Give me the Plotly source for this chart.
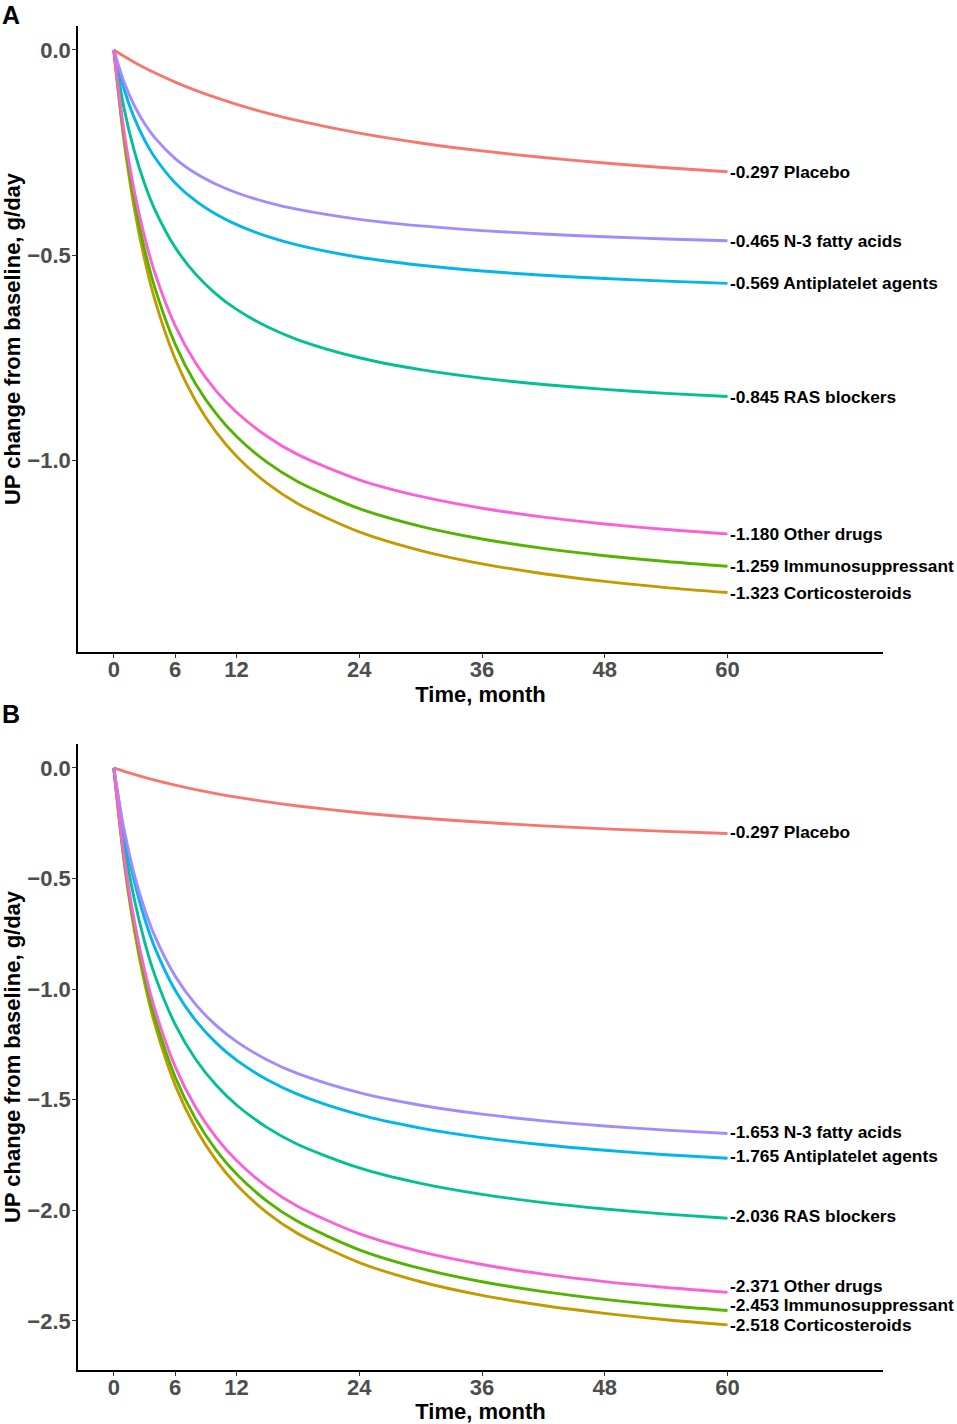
import plotly.graph_objects as go
from plotly.subplots import make_subplots

months = [0, 1, 2, 3, 4, 6, 8, 10, 12, 15, 18, 24, 30, 36, 42, 48, 54, 60]

# drawing order follows the ggplot factor order (pink on top)
groups = ["Placebo", "Corticosteroids", "Immunosuppressant", "RAS blockers",
          "Antiplatelet agents", "N-3 fatty acids", "Other drugs"]
colors = ["#F8766D", "#C49A00", "#53B400", "#00C094", "#00B6EB", "#A58AFF", "#FB61D7"]

# panel A, UP change from baseline (g/day)
a_placebo = [0, -0.0154, -0.0297, -0.0431, -0.0556, -0.0783, -0.0984, -0.1164, -0.1325,
             -0.1538, -0.1723, -0.2027, -0.2267, -0.2461, -0.2621, -0.2756, -0.2871, -0.297]
a_cortico = [0, -0.2222, -0.3851, -0.5097, -0.6081, -0.7535, -0.8559, -0.9318, -0.9904,
             -1.0568, -1.1063, -1.1750, -1.2205, -1.2529, -1.2770, -1.2958, -1.3108, -1.323]
a_immuno = [0, -0.2114, -0.3665, -0.4851, -0.5787, -0.7171, -0.8145, -0.8867, -0.9424,
            -1.0057, -1.0527, -1.1182, -1.1615, -1.1923, -1.2153, -1.2331, -1.2474, -1.259]
a_ras = [0, -0.1419, -0.2460, -0.3256, -0.3884, -0.4813, -0.5466, -0.5951, -0.6325,
         -0.6750, -0.7066, -0.7505, -0.7795, -0.8002, -0.8156, -0.8276, -0.8372, -0.845]
a_antiplatelet = [0, -0.0956, -0.1656, -0.2192, -0.2615, -0.3241, -0.3681, -0.4007, -0.4259,
                  -0.4545, -0.4758, -0.5054, -0.5249, -0.5388, -0.5492, -0.5573, -0.5637, -0.569]
a_n3 = [0, -0.0781, -0.1354, -0.1792, -0.2137, -0.2648, -0.3008, -0.3275, -0.3481,
        -0.3714, -0.3888, -0.4130, -0.4290, -0.4404, -0.4488, -0.4554, -0.4607, -0.465]
a_other = [0, -0.1982, -0.3435, -0.4546, -0.5424, -0.6721, -0.7634, -0.8311, -0.8833,
           -0.9426, -0.9867, -1.0480, -1.0886, -1.1174, -1.1390, -1.1557, -1.1691, -1.180]

# panel B
b_placebo = a_placebo
b_cortico = [0, -0.4229, -0.7330, -0.9702, -1.1574, -1.4342, -1.6289, -1.7734, -1.8849,
             -2.0113, -2.1055, -2.2363, -2.3230, -2.3845, -2.4305, -2.4662, -2.4947, -2.518]
b_immuno = [0, -0.4120, -0.7141, -0.9451, -1.1275, -1.3972, -1.5869, -1.7277, -1.8362,
            -1.9594, -2.0511, -2.1786, -2.2630, -2.3230, -2.3678, -2.4026, -2.4304, -2.453]
b_ras = [0, -0.3419, -0.5927, -0.7844, -0.9358, -1.1596, -1.3171, -1.4340, -1.5241,
         -1.6263, -1.7024, -1.8083, -1.8783, -1.9281, -1.9653, -1.9941, -2.0172, -2.036]
b_antiplatelet = [0, -0.2964, -0.5138, -0.6800, -0.8113, -1.0053, -1.1418, -1.2431, -1.3212,
                  -1.4098, -1.4758, -1.5676, -1.6283, -1.6714, -1.7037, -1.7287, -1.7487, -1.765]
b_n3 = [0, -0.2776, -0.4812, -0.6369, -0.7598, -0.9415, -1.0693, -1.1642, -1.2374,
        -1.3204, -1.3822, -1.4681, -1.5250, -1.5654, -1.5956, -1.6190, -1.6377, -1.653]
b_other = [0, -0.3982, -0.6902, -0.9135, -1.0898, -1.3504, -1.5338, -1.6699, -1.7749,
           -1.8939, -1.9826, -2.1058, -2.1873, -2.2453, -2.2886, -2.3223, -2.3491, -2.371]

panel_a = [a_placebo, a_cortico, a_immuno, a_ras, a_antiplatelet, a_n3, a_other]
panel_b = [b_placebo, b_cortico, b_immuno, b_ras, b_antiplatelet, b_n3, b_other]

x_ticks = [0, 6, 12, 24, 36, 48, 60]
a_yticks = [0.0, -0.5, -1.0]
b_yticks = [0.0, -0.5, -1.0, -1.5, -2.0, -2.5]

FONT = "Liberation Sans, Arial, sans-serif"

fig = make_subplots(rows=2, cols=1, vertical_spacing=0.0684)

# small vertical nudges for crowded end labels in panel B (pixels)
b_shift = {"Other drugs": 4, "Immunosuppressant": 3, "Corticosteroids": -2}

for row, panel in [(1, panel_a), (2, panel_b)]:
    for name, col, ys in zip(groups, colors, panel):
        fig.add_trace(go.Scatter(x=months, y=ys, mode="lines", name=name,
                                 line=dict(color=col, width=2.9, shape="spline", smoothing=0.8),
                                 showlegend=False), row=row, col=1)
        shift = 0 if row == 1 else 2 + b_shift.get(name, 0)
        fig.add_annotation(x=months[-1], y=ys[-1], xref=f"x{'' if row == 1 else 2}",
                           yref=f"y{'' if row == 1 else 2}",
                           text=f"{ys[-1]:.3f} {name}", showarrow=False,
                           xanchor="left", yanchor="middle", xshift=0, yshift=shift,
                           font=dict(family=FONT, size=17.3, color="black", weight="bold"))

axis_style = dict(showline=True, linecolor="black", linewidth=1.6, mirror=False,
                  showgrid=False, zeroline=False, ticks="outside", ticklen=4,
                  tickcolor="#333333", tickwidth=1.2, automargin=False,
                  tickfont=dict(family=FONT, size=22, color="#4D4D4D", weight="bold"))

for row in [1, 2]:
    fig.update_xaxes(axis_style, range=[-3.5, 75.2], tickvals=x_ticks, ticklabelstandoff=-7,
                     title=dict(text="Time, month", standoff=0,
                                font=dict(family=FONT, size=22, color="black", weight="bold")),
                     row=row, col=1)

fig.update_yaxes(axis_style, range=[-1.468, 0.0585], tickvals=a_yticks, tickformat=".1f",
                 ticklabelstandoff=-3,
                 title=dict(text="UP change from baseline, g/day", standoff=6,
                            font=dict(family=FONT, size=22, color="black", weight="bold")),
                 row=1, col=1)
fig.update_yaxes(axis_style, range=[-2.722, 0.108], tickvals=b_yticks, tickformat=".1f",
                 ticklabelstandoff=-3,
                 title=dict(text="UP change from baseline, g/day", standoff=6,
                            font=dict(family=FONT, size=22, color="black", weight="bold")),
                 row=2, col=1)

fig.update_layout(yaxis=dict(domain=[0.5342, 1.0]), yaxis2=dict(domain=[0.0, 0.4658]))

for letter, ypos in [("A", 1.0082), ("B", 0.4881)]:
    fig.add_annotation(x=-0.0963, y=ypos, xref="paper", yref="paper", text=letter,
                       showarrow=False, xanchor="left", yanchor="middle",
                       font=dict(family=FONT, size=25, color="black", weight="bold"))

fig.update_layout(width=957, height=1424, plot_bgcolor="white", paper_bgcolor="white",
                  margin=dict(l=78, r=74, t=26, b=54))

# drop the default page margin so the figure sits at the window's corner
fig.write_html("out.html", config={"displayModeBar": False},
               post_script="document.body.style.margin='0px';")
